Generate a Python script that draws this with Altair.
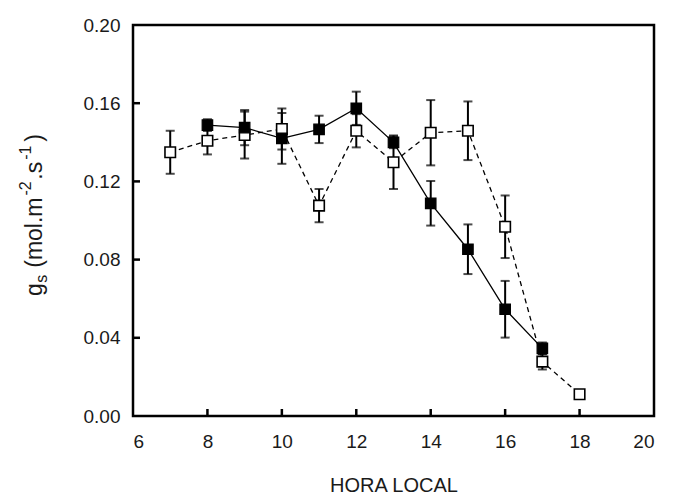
import altair as alt
import pandas as pd

# Open squares (dashed line)
open_hours = [7, 8, 9, 10, 11, 12, 13, 14, 15, 16, 17, 18]
open_vals = [0.1349, 0.1408, 0.1437, 0.1468, 0.1076, 0.1459, 0.1298, 0.1449, 0.1459, 0.0968, 0.0278, 0.0111]
open_err = [0.011, 0.007, 0.012, 0.0105, 0.0085, 0.0085, 0.0137, 0.0167, 0.015, 0.016, 0.004, 0.0015]

# Filled squares (solid line)
filled_hours = [8, 9, 10, 11, 12, 13, 14, 15, 16, 17]
filled_vals = [0.1488, 0.1475, 0.1420, 0.1466, 0.1574, 0.1400, 0.1088, 0.0853, 0.0546, 0.0346]
filled_err = [0.003, 0.009, 0.013, 0.007, 0.0085, 0.003, 0.0114, 0.0127, 0.0145, 0.003]

x_ticks = [8, 10, 12, 14, 16, 18]
y_ticks = [0.04, 0.08, 0.12, 0.16]

# y-axis title pieces: text, role (main / sub / sup)
title_pieces = ["g", "s", "(mol.m", "-2", ".s", "-1", ")"]
title_roles = ["main", "sub", "main", "sup", "main", "sup", "main"]
title_gaps = [0.5, 7, 2, 1.5, 2, 4, 0]

W, H = 521, 391
FONT = "Liberation Sans"

rows = []
for h, v, e in zip(open_hours, open_vals, open_err):
    rows.append({"hora": h, "gs": v, "lo": v - e, "hi": v + e, "serie": "open"})
for h, v, e in zip(filled_hours, filled_vals, filled_err):
    rows.append({"hora": h, "gs": v, "lo": v - e, "hi": v + e, "serie": "filled"})
df = pd.DataFrame(rows)
df_open = df[df.serie == "open"]
df_filled = df[df.serie == "filled"]

xs = alt.Scale(domain=[6, 20], nice=False, zero=False)
ys = alt.Scale(domain=[0, 0.2], nice=False)

x_axis = alt.Axis(values=list(range(6, 21, 2)), tickSize=0, domain=False, grid=False,
                  labelFontSize=19, labelPadding=16, labelColor="#1a1a1a",
                  title="HORA LOCAL", titleFontSize=20, titleFontWeight="normal",
                  titlePadding=24, titleColor="#1a1a1a", labelFont=FONT,
                  titleFont=FONT)
y_axis = alt.Axis(values=[0, 0.04, 0.08, 0.12, 0.16, 0.2], format=".2f", tickSize=0,
                  domain=False, grid=False, labelFontSize=19, labelPadding=13,
                  labelColor="#1a1a1a", title=None, labelFont=FONT)

base_x = alt.X("hora:Q", scale=xs, axis=x_axis)
base_y = alt.Y("gs:Q", scale=ys, axis=y_axis)

line_open = alt.Chart(df_open).mark_line(color="black", strokeWidth=1.3, strokeDash=[5, 4]).encode(
    x=base_x, y=base_y)
line_filled = alt.Chart(df_filled).mark_line(color="black", strokeWidth=1.3).encode(
    x=base_x, y=base_y)

err_rule = alt.Chart(df).mark_rule(color="black", strokeWidth=2).encode(
    x=alt.X("hora:Q", scale=xs), y=alt.Y("lo:Q", scale=ys), y2="hi:Q")
cap_lo = alt.Chart(df).mark_tick(color="black", orient="horizontal", size=9, thickness=2).encode(
    x=alt.X("hora:Q", scale=xs), y=alt.Y("lo:Q", scale=ys))
cap_hi = alt.Chart(df).mark_tick(color="black", orient="horizontal", size=9, thickness=2).encode(
    x=alt.X("hora:Q", scale=xs), y=alt.Y("hi:Q", scale=ys))

pts_open = alt.Chart(df_open).mark_square(size=110, fill="white", stroke="black",
                                         strokeWidth=1.6, opacity=1, filled=True).encode(
    x=base_x, y=base_y)
pts_filled = alt.Chart(df_filled).mark_square(size=110, fill="black", stroke="black",
                                             strokeWidth=1.2, opacity=1, filled=True).encode(
    x=base_x, y=base_y)

xt = pd.DataFrame({"t": x_ticks})
yt = pd.DataFrame({"t": y_ticks})
x_tick_marks = alt.Chart(xt).mark_rule(color="black", strokeWidth=2.5).encode(
    x=alt.X("t:Q", scale=xs), y=alt.value(H), y2=alt.value(H - 7))
y_tick_marks = alt.Chart(yt).mark_rule(color="black", strokeWidth=2.5).encode(
    y=alt.Y("t:Q", scale=ys), x=alt.value(0), x2=alt.value(7))

# --- rotated y-axis title built from pieces (sub/superscripts) ---
MAIN_FS, SMALL_FS = 23, 16
adv = {"g": .556, "s": .5, " ": .278, "(": .333, "m": .833, "o": .556, "l": .222,
       ".": .278, "-": .333, "2": .556, "1": .556, ")": .333}
base_x_px = -91        # baseline of main text, relative to plot's left edge
shift = {"main": 0, "sub": 5, "sup": -11}
widths = []
total = 0
for t, r, g in zip(title_pieces, title_roles, title_gaps):
    fs = MAIN_FS if r == "main" else SMALL_FS
    w = sum(adv[c] for c in t) * fs
    widths.append(w)
    total += w + g
center_y = 190
start = center_y + total / 2
title_layers = []
one = pd.DataFrame({"k": [0]})
for t, r, w, g in zip(title_pieces, title_roles, widths, title_gaps):
    fs = MAIN_FS if r == "main" else SMALL_FS
    title_layers.append(
        alt.Chart(one).mark_text(angle=270, align="left", baseline="alphabetic",
                                 font=FONT, fontSize=fs, color="#1a1a1a").encode(
            x=alt.value(base_x_px + shift[r]), y=alt.value(start), text=alt.value(t))
    )
    start -= w + g

chart = alt.layer(
    line_open, line_filled, err_rule, cap_lo, cap_hi, pts_open, pts_filled,
    x_tick_marks, y_tick_marks, *title_layers
).properties(
    width=W, height=H,
    autosize=alt.AutoSizeParams(type="none"),
    padding={"left": 133, "top": 25, "right": 23, "bottom": 82},
    background="white"
).configure_view(
    stroke="black", strokeWidth=2.5
)

chart.save("out.html", embed_options={"renderer": "svg", "actions": False})
